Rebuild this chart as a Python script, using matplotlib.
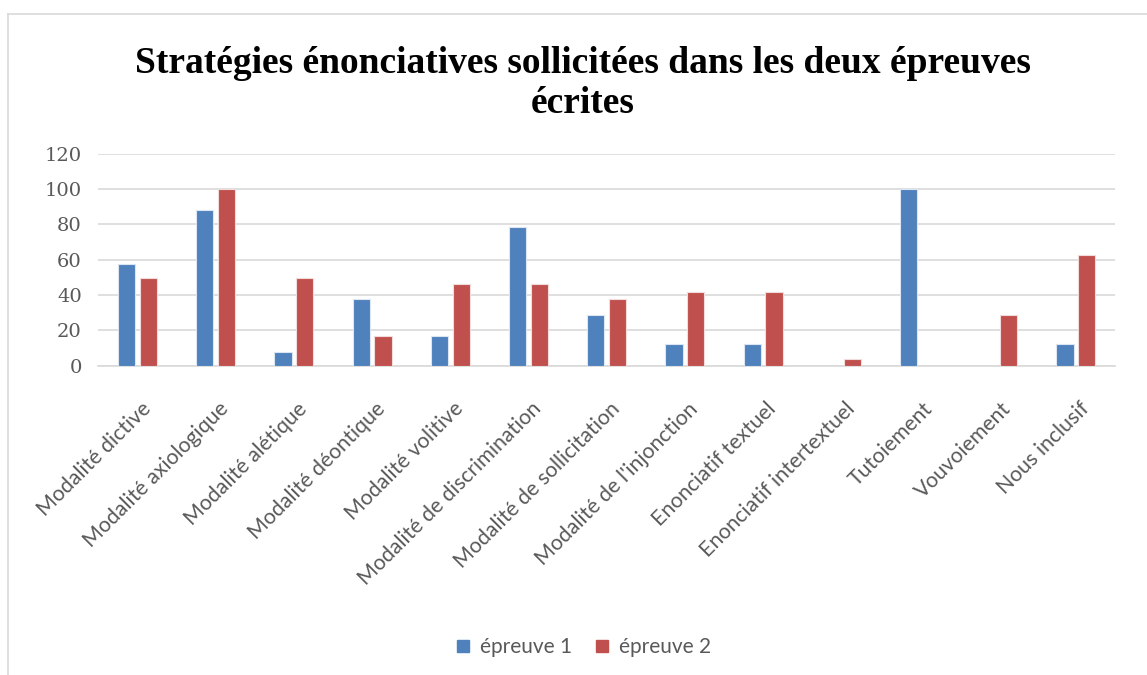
import matplotlib.pyplot as plt
import matplotlib.transforms as mtransforms
import numpy as np
from matplotlib.lines import Line2D

categories = ["Modalité dictive", "Modalité axiologique", "Modalité alétique",
              "Modalité déontique", "Modalité volitive", "Modalité de discrimination",
              "Modalité de sollicitation", "Modalité de l'injonction", "Enonciatif textuel",
              "Enonciatif intertextuel", "Tutoiement", "Vouvoiement", "Nous inclusif"]
epreuve1 = [57.5, 88, 7.5, 38, 17, 78.5, 28.5, 12.5, 12.5, 0, 100, 0, 12.5]
epreuve2 = [49.5, 100, 49.5, 17, 46, 46, 38, 41.5, 41.5, 4, 0, 28.5, 62.5]
yticks = [0, 20, 40, 60, 80, 100, 120]

bleu = "#4F81BD"
rouge = "#C0504D"
gris = "#595959"

W, H = 1147, 675
fig = plt.figure(figsize=(W / 100, H / 100), dpi=100)
ax = fig.add_axes([98.4 / W, 1 - 365.7 / H, (1115 - 98.4) / W, (365.7 - 153.6) / H])

x = np.arange(len(categories))
w = 0.22
ax.bar(x - 0.14, epreuve1, w, color=bleu, edgecolor="#dce6f2", linewidth=0.8, label="épreuve 1", zorder=3)
ax.bar(x + 0.14, epreuve2, w, color=rouge, edgecolor="#f2dcdb", linewidth=0.8, label="épreuve 2", zorder=3)

ax.set_xlim(-0.5, len(categories) - 0.5)
ax.set_ylim(0, 120)
ax.set_yticks(yticks)
ax.set_yticklabels([str(v) for v in yticks], fontsize=14, color=gris, family="DejaVu Serif")
ax.yaxis.grid(True, color="#d9d9d9", linewidth=1.2, zorder=0)
ax.set_axisbelow(True)
for s in ["top", "right", "left"]:
    ax.spines[s].set_visible(False)
ax.spines["bottom"].set_color("#d9d9d9")
ax.spines["bottom"].set_linewidth(1.2)
ax.tick_params(axis="y", length=0, pad=12)
ax.tick_params(axis="x", length=0, pad=0)
ax.set_xticks(x)
ax.set_xticklabels(categories, rotation=45, ha="right", rotation_mode="anchor",
                   fontsize=15.3, color=gris, family="Lato")
# décalage des étiquettes inclinées sous l'axe
decalage = mtransforms.ScaledTranslation(0.03, -0.33, fig.dpi_scale_trans)
for lab in ax.get_xticklabels():
    lab.set_transform(lab.get_transform() + decalage)

fig.text(0.508, 0.876, "Stratégies énonciatives sollicitées dans les deux épreuves\nécrites",
         ha="center", va="center", fontsize=27, fontweight="bold",
         family="Liberation Serif", linespacing=1.2)

handles = [Line2D([], [], marker="s", linestyle="", markersize=8, color=bleu),
           Line2D([], [], marker="s", linestyle="", markersize=8, color=rouge)]
fig.legend(handles, ["épreuve 1", "épreuve 2"], loc="center", bbox_to_anchor=(0.508, 0.0415),
           ncol=2, frameon=False, labelcolor=gris, handlelength=0.8, handletextpad=0.4,
           columnspacing=1.05, prop={"family": "Lato", "size": 15})

# cadre du graphique
fig.add_artist(Line2D([8 / W, 1], [1 - 14 / H, 1 - 14 / H], color="#d9d9d9", linewidth=1.2))
fig.add_artist(Line2D([8 / W, 8 / W], [0, 1 - 14 / H], color="#d9d9d9", linewidth=1.2))

fig.savefig("out.png", dpi=100)
